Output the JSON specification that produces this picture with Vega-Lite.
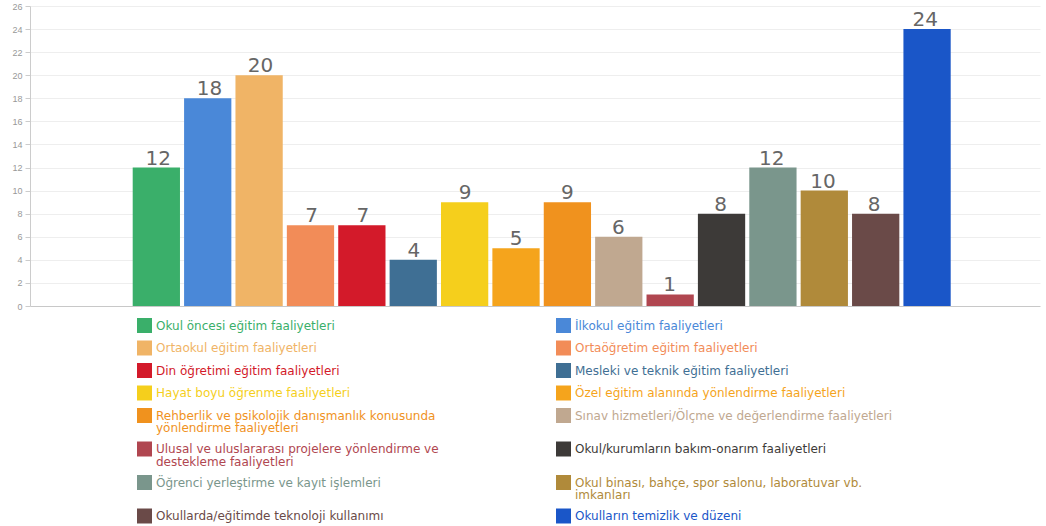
{
  "$schema": "https://vega.github.io/schema/vega-lite/v6.json",
  "width": 1010,
  "height": 300,
  "autosize": "none",
  "padding": {"left": 30, "top": 6, "right": 6, "bottom": 220},
  "background": "white",
  "config": {
    "view": {"stroke": null},
    "font": "Liberation Sans"
  },
  "data": {
    "values": [
      {"kategori": "Okul öncesi eğitim faaliyetleri", "sayi": 12},
      {"kategori": "İlkokul eğitim faaliyetleri", "sayi": 18},
      {"kategori": "Ortaokul eğitim faaliyetleri", "sayi": 20},
      {"kategori": "Ortaöğretim eğitim faaliyetleri", "sayi": 7},
      {"kategori": "Din öğretimi eğitim faaliyetleri", "sayi": 7},
      {"kategori": "Mesleki ve teknik eğitim faaliyetleri", "sayi": 4},
      {"kategori": "Hayat boyu öğrenme faaliyetleri", "sayi": 9},
      {"kategori": "Özel eğitim alanında yönlendirme faaliyetleri", "sayi": 5},
      {"kategori": "Rehberlik ve psikolojik danışmanlık konusunda\nyönlendirme faaliyetleri", "sayi": 9},
      {"kategori": "Sınav hizmetleri/Ölçme ve değerlendirme faaliyetleri", "sayi": 6},
      {"kategori": "Ulusal ve uluslararası projelere yönlendirme ve\ndestekleme faaliyetleri", "sayi": 1},
      {"kategori": "Okul/kurumların bakım-onarım faaliyetleri", "sayi": 8},
      {"kategori": "Öğrenci yerleştirme ve kayıt işlemleri", "sayi": 12},
      {"kategori": "Okul binası, bahçe, spor salonu, laboratuvar vb.\nimkanları", "sayi": 10},
      {"kategori": "Okullarda/eğitimde teknoloji kullanımı", "sayi": 8},
      {"kategori": "Okulların temizlik ve düzeni", "sayi": 24}
    ]
  },
  "resolve": {"scale": {"x": "independent"}, "axis": {"y": "independent"}},
  "layer": [
    {
      "mark": {"type": "rule", "strokeOpacity": 0},
      "encoding": {
        "y": {
          "field": "sayi",
          "type": "quantitative",
          "scale": {"domain": [0, 26], "nice": false},
          "axis": {
            "title": null,
            "values": [0, 2, 4, 6, 8, 10, 12, 14, 16, 18, 20, 22, 24, 26],
            "labelFontSize": 9,
            "labelColor": "#999999",
            "tickColor": "#cccccc",
            "tickSize": 5,
            "labelPadding": 3,
            "domainColor": "#cccccc",
            "grid": true,
            "gridColor": {"condition": {"test": "datum.value === 0", "value": "#c8c8c8"}, "value": "#eeeeee"}
          }
        }
      }
    },
    {
      "mark": {"type": "bar"},
      "encoding": {
        "x": {
          "field": "kategori",
          "type": "nominal",
          "sort": null,
          "scale": {"paddingInner": 0.08, "paddingOuter": 0, "range": [102.7, 920.7]},
          "axis": null
        },
        "y": {"field": "sayi", "type": "quantitative", "axis": null},
        "color": {
          "field": "kategori",
          "type": "nominal",
          "sort": null,
          "scale": {
            "range": ["#3aaf6a", "#4a88d8", "#f0b466", "#f28c58", "#d31a2a", "#3f6f94", "#f5cf1c", "#f5a41c", "#f0921e", "#c0a890", "#b04650", "#3d3a38", "#7a968c", "#b08a3a", "#6a4a48", "#1a56c8"]
          },
          "legend": {
            "title": null,
            "orient": "none",
            "direction": "horizontal",
            "legendX": 107,
            "legendY": 312,
            "columns": 2,
            "columnPadding": 117,
            "rowPadding": 7.5,
            "padding": 0,
            "symbolType": "square",
            "symbolSize": 225,
            "symbolStrokeWidth": 0,
            "labelFont": "DejaVu Sans",
            "labelFontSize": 12,
            "labelLimit": 500,
            "labelOffset": 4,
            "labelExpr": "split(datum.label, '\\n')",
            "encode": {
              "labels": {"update": {"fill": {"scale": "color", "field": "value"}, "lineHeight": {"value": 12.5}}}
            }
          }
        }
      }
    },
    {
      "mark": {"type": "text", "baseline": "alphabetic", "dy": -3, "fontSize": 20, "font": "DejaVu Sans", "color": "#666666"},
      "encoding": {
        "x": {
          "field": "kategori",
          "type": "nominal",
          "sort": null,
          "scale": {"paddingInner": 0.08, "paddingOuter": 0, "range": [102.7, 920.7]},
          "axis": null
        },
        "y": {"field": "sayi", "type": "quantitative", "axis": null},
        "text": {"field": "sayi", "type": "quantitative"}
      }
    }
  ]
}
